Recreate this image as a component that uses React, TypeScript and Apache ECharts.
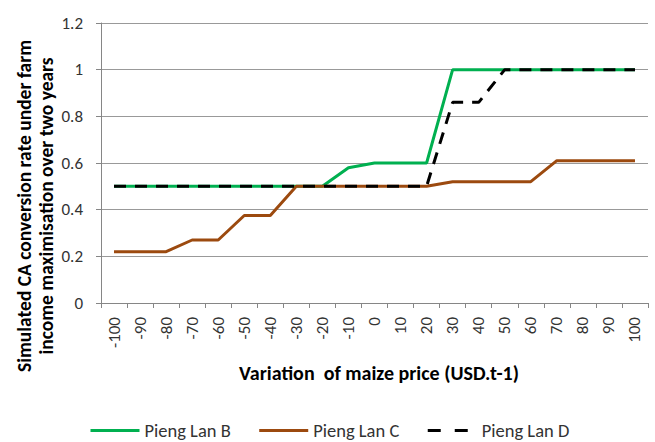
import React, { useEffect, useRef } from "react";
import * as echarts from "echarts";

const categories = ["-100","-90","-80","-70","-60","-50","-40","-30","-20","-10","0","10","20","30","40","50","60","70","80","90","100"];
const pienglanB = [0.5,0.5,0.5,0.5,0.5,0.5,0.5,0.5,0.5,0.58,0.6,0.6,0.6,1,1,1,1,1,1,1,1];
const pienglanC = [0.22,0.22,0.22,0.27,0.27,0.375,0.375,0.5,0.5,0.5,0.5,0.5,0.5,0.52,0.52,0.52,0.52,0.61,0.61,0.61,0.61];
const pienglanD = [0.5,0.5,0.5,0.5,0.5,0.5,0.5,0.5,0.5,0.5,0.5,0.5,0.5,0.86,0.86,1,1,1,1,1,1];
const seriesNames = ["Pieng Lan B", "Pieng Lan C", "Pieng Lan D"];

const FONT = "Carlito, 'Liberation Sans Narrow', 'Open Sans', sans-serif";

export default function App() {
  const ref = useRef<HTMLDivElement>(null);
  useEffect(() => {
    if (!ref.current) return;
    const chart = echarts.init(ref.current, undefined, { renderer: "svg" });
    chart.setOption({
      animation: false,
      backgroundColor: "#ffffff",
      textStyle: { fontFamily: FONT },
      grid: { left: 101, right: 7, top: 23, bottom: 139, containLabel: false },
      xAxis: {
        type: "category",
        data: categories,
        boundaryGap: true,
        axisLine: { lineStyle: { color: "#868686", width: 1 } },
        axisTick: { show: true, alignWithLabel: false, length: 5, lineStyle: { color: "#868686" } },
        axisLabel: { rotate: 90, interval: 0, margin: 14, fontSize: 17, color: "#333333", fontFamily: FONT },
        splitLine: { show: false },
      },
      yAxis: {
        type: "value",
        min: 0,
        max: 1.2,
        interval: 0.2,
        axisLine: { show: true, lineStyle: { color: "#868686", width: 1 } },
        axisTick: { show: true, length: 5, lineStyle: { color: "#868686" } },
        axisLabel: { margin: 18, fontSize: 17, color: "#333333", fontFamily: FONT, formatter: (v: number) => String(Math.round(v * 10) / 10) },
        splitLine: { show: true, lineStyle: { color: "#999999", width: 1 } },
      },
      legend: {
        left: 84,
        top: 416,
        itemWidth: 49,
        itemHeight: 18,
        itemGap: 27,
        itemStyle: { opacity: 0 },
        textStyle: { fontSize: 18.5, color: "#333333", fontFamily: FONT },
        data: [
          { name: seriesNames[0], lineStyle: { width: 3 } },
          { name: seriesNames[1], lineStyle: { width: 3 } },
          { name: seriesNames[2], lineStyle: { width: 3, type: [13, 14] } },
        ],
      },
      graphic: [
        {
          type: "text",
          x: 35,
          y: 206,
          rotation: Math.PI / 2,
          style: {
            text: "Simulated CA conversion rate under farm\nincome maximisation over two years",
            font: `bold 19.5px ${FONT}`,
            fill: "#000",
            align: "center",
            verticalAlign: "middle",
            lineHeight: 22,
          },
        },
        {
          type: "text",
          x: 379,
          y: 373,
          style: {
            text: "Variation  of maize price (USD.t-1)",
            font: `bold 20px ${FONT}`,
            fill: "#000",
            align: "center",
            verticalAlign: "middle",
          },
        },
      ],
      series: [
        {
          name: seriesNames[0],
          type: "line",
          data: pienglanB,
          symbol: "none",
          lineStyle: { color: "#00b050", width: 3 },
          itemStyle: { color: "#00b050" },
        },
        {
          name: seriesNames[1],
          type: "line",
          data: pienglanC,
          symbol: "none",
          lineStyle: { color: "#9c4a0f", width: 3 },
          itemStyle: { color: "#9c4a0f" },
        },
        {
          name: seriesNames[2],
          type: "line",
          data: pienglanD,
          symbol: "none",
          lineStyle: { color: "#000000", width: 3, type: [12, 9] },
          itemStyle: { color: "#000000" },
        },
      ],
    });
    return () => chart.dispose();
  }, []);
  return <div ref={ref} style={{ width: 655, height: 442, position: "absolute", left: 0, top: 0 }} />;
}
